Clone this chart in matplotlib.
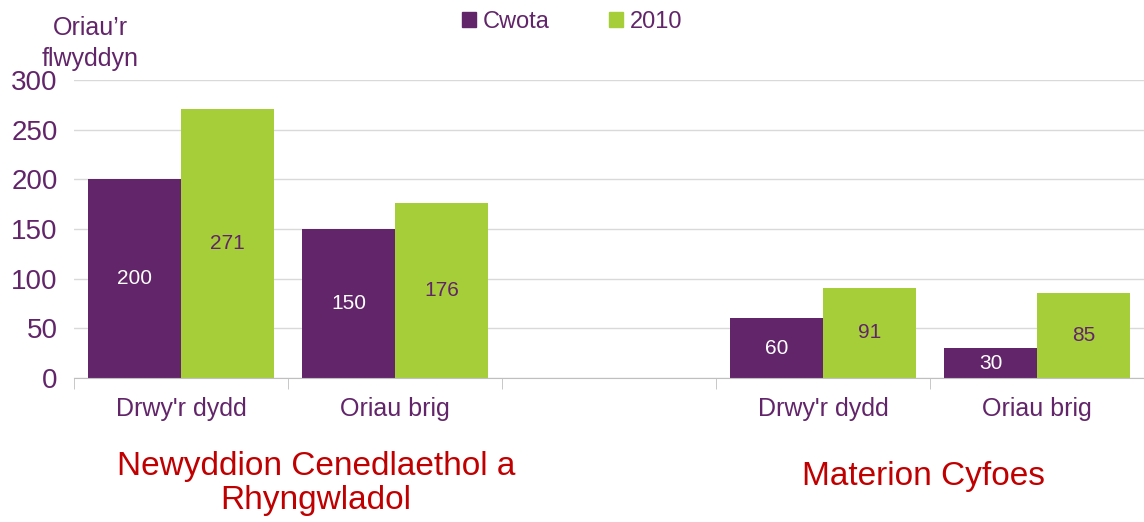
import numpy as np
import matplotlib.pyplot as plt
from matplotlib.patches import Patch
from matplotlib.transforms import blended_transform_factory

plt.rcParams['font.family'] = ['Liberation Sans', 'DejaVu Sans']

categories = ["Drwy'r dydd", "Oriau brig", "", "Drwy'r dydd", "Oriau brig"]
cwota = [200, 150, np.nan, 60, 30]
y2010 = [271, 176, np.nan, 91, 85]
groups = ["Newyddion Cenedlaethol a\nRhyngwladol", "Materion Cyfoes"]
yticks = [0, 50, 100, 150, 200, 250, 300]

purple = '#62256a'
green = '#a6ce39'
red = '#c00000'

fig = plt.figure(figsize=(11.44, 5.22), dpi=100)
ax = fig.add_axes([0.065, 0.276, 0.935, 0.571])

x = np.arange(len(categories))
w = 0.434
ax.bar(x - w / 2, cwota, w, color=purple)
ax.bar(x + w / 2, y2010, w, color=green)

for i in range(len(categories)):
    if not np.isnan(cwota[i]):
        ax.text(x[i] - w / 2, cwota[i] / 2, str(cwota[i]), ha='center', va='center',
                color='white', fontsize=15)
        ax.text(x[i] + w / 2, y2010[i] / 2, str(y2010[i]), ha='center', va='center',
                color=purple, fontsize=15)

ax.set_xlim(-0.5, len(categories) - 0.5)
ax.set_ylim(0, 300)
ax.set_yticks(yticks)
ax.yaxis.grid(True, color='#d9d9d9', linewidth=1)
ax.set_axisbelow(True)
for s in ['top', 'right', 'left']:
    ax.spines[s].set_visible(False)
ax.spines['bottom'].set_color('#bfbfbf')
ax.tick_params(axis='y', length=0, labelsize=20, labelcolor=purple, pad=12)

ax.set_xticks(x)
ax.set_xticklabels(categories)
ax.tick_params(axis='x', length=0, labelsize=18, labelcolor=purple, pad=14)
ax.set_xticks(np.arange(len(categories) + 1) - 0.5, minor=True)
ax.tick_params(axis='x', which='minor', length=8, color='#bfbfbf')

tr = blended_transform_factory(ax.transData, fig.transFigure)
ax.text(0.63, 0.074, groups[0], transform=tr, ha='center', va='center',
        color=red, fontsize=24, linespacing=1.15)
ax.text(3.47, 0.088, groups[1], transform=tr, ha='center', va='center',
        color=red, fontsize=24)

fig.text(0.079, 0.97, "Oriau\u2019r\nflwyddyn", ha='center', va='top', color=purple,
         fontsize=18, linespacing=1.4)

handles = [Patch(color=purple, label='Cwota'), Patch(color=green, label='2010')]
leg = fig.legend(handles=handles, loc='upper center', bbox_to_anchor=(0.5, 1.02), ncol=2,
                 frameon=False, fontsize=17, handlelength=0.6, handleheight=0.6,
                 handletextpad=0.3, columnspacing=2.5)
for t in leg.get_texts():
    t.set_color(purple)

fig.savefig('out.png', dpi=100)
